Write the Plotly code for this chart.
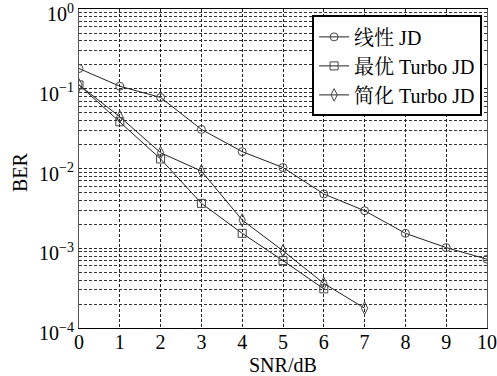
import plotly.graph_objects as go

snr_lin = [0, 1, 2, 3, 4, 5, 6, 7, 8, 9, 10]
ber_lin = [0.18, 0.108, 0.078, 0.031, 0.0163, 0.0103, 0.0048, 0.00296, 0.00154, 0.00102, 0.00073]

snr_opt = [0, 1, 2, 3, 4, 5, 6]
ber_opt = [0.112, 0.0386, 0.0132, 0.00366, 0.00154, 0.0007, 0.00031]

snr_simp = [0, 1, 2, 3, 4, 5, 6, 7]
ber_simp = [0.112, 0.0446, 0.0158, 0.0093, 0.00226, 0.00093, 0.000363, 0.000177]

names = ["线性 JD", "最优 Turbo JD", "简化 Turbo JD"]
x_ticks = list(range(0, 11))
y_tickvals = [1, 0.1, 0.01, 0.001, 0.0001]
y_ticktext = ["10<sup>0</sup>", "10<sup>−1</sup>", "10<sup>−2</sup>", "10<sup>−3</sup>", "10<sup>−4</sup>"]

FONT = "Liberation Serif, Times New Roman, serif"
CJK = "Liberation Serif, Noto Serif CJK SC, Noto Sans CJK SC, serif"

fig = go.Figure()
specs = [
    (snr_lin, ber_lin, names[0], "circle-open", 8),
    (snr_opt, ber_opt, names[1], "square-open", 8),
    (snr_simp, ber_simp, names[2], "diamond-tall-open", 9),
]
for xs, ys, nm, sym, sz in specs:
    fig.add_trace(go.Scatter(
        x=xs, y=ys, name=nm, mode="lines+markers",
        line=dict(color="#222", width=1),
        marker=dict(symbol=sym, size=sz, color="#444", line=dict(width=1, color="#444")),
    ))

grid = dict(gridcolor="#222", griddash="3px,2px", gridwidth=1)
fig.update_layout(
    width=497, height=376,
    margin=dict(l=79, r=10, t=9, b=48, autoexpand=False),
    paper_bgcolor="white", plot_bgcolor="white",
    font=dict(family=CJK, size=18, color="black"),
    showlegend=True,
    legend=dict(
        x=0.988, y=0.98, xanchor="right", yanchor="top",
        bgcolor="white", bordercolor="black", borderwidth=2,
        font=dict(family=CJK, size=20, color="black"),
        itemwidth=30, tracegroupgap=0,
    ),
    xaxis=dict(
        range=[0, 10], tickvals=x_ticks, ticks="", automargin=False,
        showline=True, linecolor="black", linewidth=1, mirror=True,
        showgrid=True, **grid, zeroline=False,
        tickfont=dict(family=FONT, size=20),
        ticklabelstandoff=-4,
    ),
    yaxis=dict(
        type="log", range=[-4, 0.002], tickvals=y_tickvals, ticktext=y_ticktext, ticks="",
        automargin=False,
        showline=True, linecolor="#555", linewidth=1, mirror=True,
        showgrid=True, **grid, zeroline=False,
        minor=dict(showgrid=True, dtick="D1", gridcolor="#333", griddash="3px,2px", gridwidth=1),
        tickfont=dict(family=FONT, size=20),
        ticklabeloverflow="allow",
        ticklabelshift=5,
    ),
    annotations=[
        dict(text="SNR/dB", xref="paper", yref="paper", x=0.5, y=-0.116,
             xanchor="center", yanchor="middle", showarrow=False,
             font=dict(family=FONT, size=20)),
        dict(text="BER", xref="paper", yref="paper", x=-0.1446, y=0.489,
             xanchor="center", yanchor="middle", showarrow=False, textangle=-90,
             font=dict(family=FONT, size=20)),
    ],
)
fig.write_html("out.html", post_script="document.body.style.margin='0';",
               config={"displayModeBar": False})
